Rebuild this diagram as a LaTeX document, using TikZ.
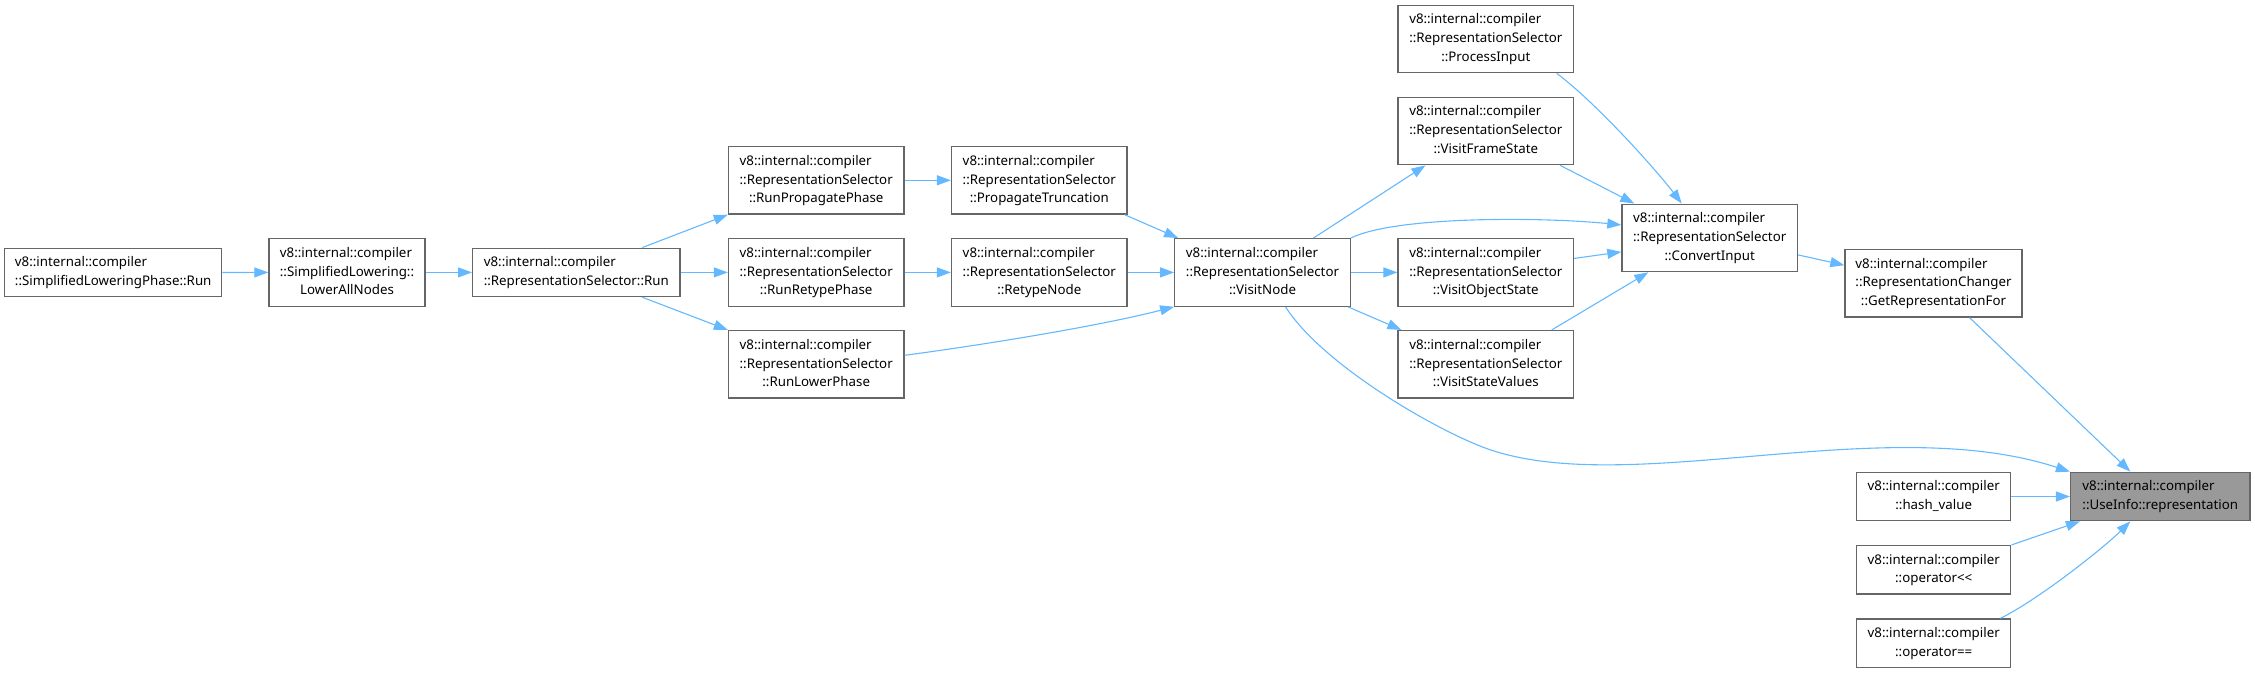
\documentclass[tikz,border=0pt]{standalone}
\usepackage{fontspec}
\setmainfont{Noto Sans}
\usepackage{tikz}
\usetikzlibrary{arrows.meta}
\definecolor{boxgray}{RGB}{102,102,102}
\definecolor{focusgray}{RGB}{153,153,153}
\definecolor{callblue}{RGB}{99,184,255}
\newcommand{\fnname}[2]{\begin{tabular}{@{}l@{}}#1\\\multicolumn{1}{@{}c@{}}{#2}\end{tabular}}

\begin{document}
\begin{tikzpicture}[
	x=1pt, y=-1pt,
	fnbox/.style={
		rectangle,
		draw=boxgray,
		fill=white,
		line width=1.3pt,
		inner sep=0pt,
		minimum width=#1,
		minimum height=48.4pt,
		font=\fontsize{13.3}{18.8}\selectfont
	},
	tallbox/.style={
		fnbox=#1,
		minimum height=67.5pt
	},
	call/.style={
		-{Triangle[length=14pt,width=10pt]},
		draw=callblue,
		line width=1.1pt
	}
	]
	
	\useasboundingbox (0,0) rectangle (2255,673);
	
	% Lowering chain
	\node[fnbox=217pt] (slrun) at (113.2,272.5) {\fnname{v8::internal::compiler}{::SimplifiedLoweringPhase::Run}};
	\node[tallbox=156pt] (lowerall) at (347,272.4) {\fnname{v8::internal::compiler\\::SimplifiedLowering::}{LowerAllNodes}};
	\node[fnbox=207.3pt] (rsrun) at (576.3,272.4) {\fnname{v8::internal::compiler}{::RepresentationSelector::Run}};
	
	% Phases
	\node[tallbox=175.5pt] (runprop) at (816.2,180.3) {\fnname{v8::internal::compiler\\::RepresentationSelector}{::RunPropagatePhase}};
	\node[tallbox=175.5pt] (runretype) at (816.2,272.4) {\fnname{v8::internal::compiler\\::RepresentationSelector}{::RunRetypePhase}};
	\node[tallbox=175.5pt] (runlower) at (816.2,364.3) {\fnname{v8::internal::compiler\\::RepresentationSelector}{::RunLowerPhase}};
	\node[tallbox=175.5pt] (proptrunc) at (1039.3,180.3) {\fnname{v8::internal::compiler\\::RepresentationSelector}{::PropagateTruncation}};
	\node[tallbox=175.5pt] (retype) at (1039.3,272.4) {\fnname{v8::internal::compiler\\::RepresentationSelector}{::RetypeNode}};
	\node[tallbox=175.5pt] (visitnode) at (1262.5,272.4) {\fnname{v8::internal::compiler\\::RepresentationSelector}{::VisitNode}};
	
	% Visitors
	\node[tallbox=175.5pt] (processinput) at (1485.8,39) {\fnname{v8::internal::compiler\\::RepresentationSelector}{::ProcessInput}};
	\node[tallbox=175.5pt] (visitframe) at (1485.8,131) {\fnname{v8::internal::compiler\\::RepresentationSelector}{::VisitFrameState}};
	\node[tallbox=175.5pt] (visitobject) at (1485.8,272.4) {\fnname{v8::internal::compiler\\::RepresentationSelector}{::VisitObjectState}};
	\node[tallbox=175.5pt] (visitstate) at (1485.8,364.3) {\fnname{v8::internal::compiler\\::RepresentationSelector}{::VisitStateValues}};
	\node[tallbox=175.5pt] (convertinput) at (1709.7,237.9) {\fnname{v8::internal::compiler\\::RepresentationSelector}{::ConvertInput}};
	\node[tallbox=177pt] (getrep) at (1933.5,283.2) {\fnname{v8::internal::compiler\\::RepresentationChanger}{::GetRepresentationFor}};
	
	% Focus node and direct callers
	\node[fnbox=179.4pt, fill=focusgray] (useinfo) at (2160.3,496.5) {\fnname{v8::internal::compiler}{::UseInfo::representation}};
	\node[fnbox=154.2pt] (hashvalue) at (1933.7,496.5) {\fnname{v8::internal::compiler}{::hash\_value}};
	\node[fnbox=154.2pt] (oplt) at (1933.7,569.8) {\fnname{v8::internal::compiler}{::operator<\kern0pt<}};
	\node[fnbox=154.2pt] (opeq) at (1933.7,643.2) {\fnname{v8::internal::compiler}{::operator==}};
	
	% Calls - left part
	\draw[call] (slrun.east) -- (lowerall.west);
	\draw[call] (lowerall.east) -- (rsrun.west);
	\draw[call] ([xshift=66pt]rsrun.north) -- (runprop.south west);
	\draw[call] (rsrun.east) -- (runretype.west);
	\draw[call] ([xshift=66pt]rsrun.south) -- (runlower.north west);
	\draw[call] (runprop.east) -- (proptrunc.west);
	\draw[call] (runretype.east) -- (retype.west);
	\draw[call] ([yshift=9pt]runlower.east) .. controls +(90,-12) and +(-70,18) .. (visitnode.south west);
	\draw[call] ([xshift=-3pt]proptrunc.south east) -- ([xshift=4pt]visitnode.north west);
	\draw[call] (retype.east) -- (visitnode.west);
	
	% Calls - VisitNode
	\draw[call] ([xshift=51pt]visitnode.north) -- ([xshift=28pt]visitframe.south west);
	\draw[call] (visitnode.east) -- (visitobject.west);
	\draw[call] ([xshift=-3pt]visitnode.south east) -- ([xshift=4pt]visitstate.north west);
	\draw[call] (visitnode.north east) .. controls +(45,-22) and +(-80,-8) .. ([yshift=13pt]convertinput.west);
	\coordinate (vndip) at (1480,446);
	\draw[call] ([xshift=23pt]visitnode.south) .. controls +(35,55) and +(-55,-22) .. (vndip) .. controls +(140,56) and +(-190,-62) .. (useinfo.north west);
	
	% Calls - ConvertInput
	\draw[call] ([xshift=71pt]processinput.south) .. controls +(40,30) and +(-25,-33) .. ([xshift=-28pt]convertinput.north);
	\draw[call] ([xshift=-14pt]visitframe.south east) -- ([xshift=13pt]convertinput.north west);
	\draw[call] ([yshift=14pt]visitobject.east) -- ([yshift=-14pt]convertinput.west);
	\draw[call] ([xshift=66pt]visitstate.north) -- ([xshift=27pt]convertinput.south west);
	\draw[call] ([yshift=-17pt]convertinput.east) -- ([yshift=18pt]getrep.west);
	
	% Calls - representation
	\draw[call] ([xshift=36pt]getrep.south) -- ([xshift=-30pt]useinfo.north);
	\draw[call] (hashvalue.east) -- (useinfo.west);
	\draw[call] (oplt.north east) -- ([xshift=10pt]useinfo.south west);
	\draw[call] ([xshift=-11pt]opeq.north east) .. controls +(40,-20) and +(-25,25) .. ([xshift=-30pt]useinfo.south);
	
\end{tikzpicture}
\end{document}
